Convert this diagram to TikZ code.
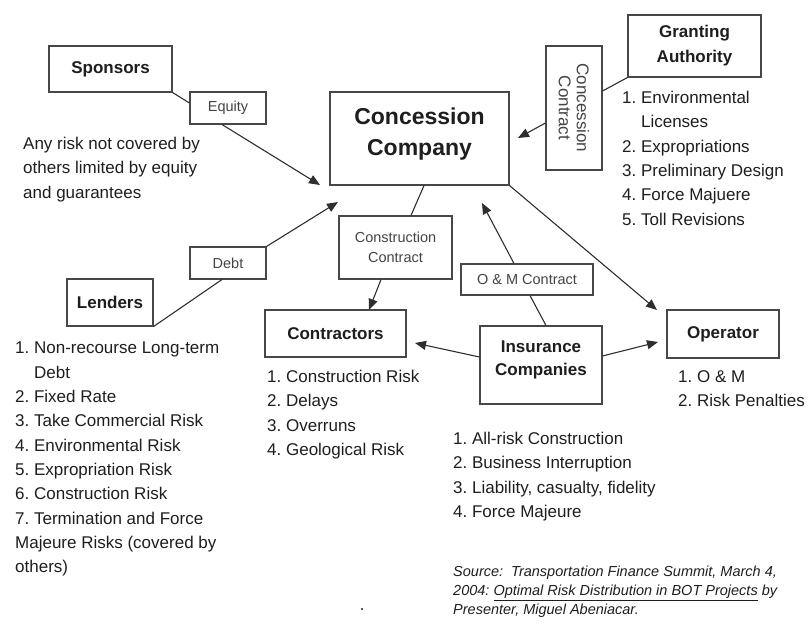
\documentclass[tikz,border=0pt]{standalone}
\usepackage{fontspec}
\setmainfont{Liberation Sans}
\usetikzlibrary{arrows.meta,calc}
\definecolor{txt}{HTML}{1E1E1E}
\definecolor{lblc}{HTML}{444444}
\definecolor{boxc}{HTML}{474747}
\definecolor{linec}{HTML}{2E2E2E}
\frenchspacing
\begin{document}
\begin{tikzpicture}[x=1pt,y=-1pt,
  box/.style={draw=boxc, line width=1.05pt, fill=white, inner sep=0pt},
  title/.style={font=\bfseries\fontsize{17}{24}\selectfont, text=txt, align=center},
  lbl/.style={font=\fontsize{14.5}{20}\selectfont, text=lblc, align=center},
  list/.style={font=\fontsize{17}{24.3}\selectfont, text=txt, align=left, anchor=north west, inner sep=0pt},
  conn/.style={draw=linec, line width=1.1pt},
  arr/.style={conn, -{Triangle[length=11pt,width=9pt]}}]
\useasboundingbox (0,0) rectangle (811,626);

% boxes
\node[box, title, minimum width=123pt, minimum height=46pt] (sponsors) at (110.5,69) {Sponsors};
\node[box, lbl, minimum width=76pt, minimum height=32pt] (equity) at (228,108) {Equity};
\node[box, minimum width=179pt, minimum height=93pt] (cc) at (419.5,138.5) {};
\node[title, font=\bfseries\fontsize{23}{31}\selectfont] (cctext) at ($(cc)+(0,-4)$) {Concession\\Company};
\node[box, lbl, font=\fontsize{17}{18}\selectfont, minimum width=124pt, minimum height=56pt, rotate=-90] (ccontract) at (574,108) {Concession\\Contract};
\node[box, title, font=\bfseries\fontsize{17}{25}\selectfont, minimum width=133pt, minimum height=62pt] (granting) at (694.5,46) {Granting\\Authority};
\node[box, title, minimum width=86pt, minimum height=47pt] (lenders) at (110,302.5) {Lenders};
\node[box, lbl, minimum width=76pt, minimum height=32pt] (debt) at (228,263) {Debt};
\node[box, lbl, minimum width=113pt, minimum height=63pt] (constr) at (395.5,247.5) {Construction\\Contract};
\node[box, title, minimum width=141pt, minimum height=47pt] (contractors) at (335.5,333.5) {Contractors};
\node[box, lbl, minimum width=132pt, minimum height=31pt] (om) at (527,279.5) {O \& M Contract};
\node[box, minimum width=122pt, minimum height=78pt] (ins) at (541,365) {};
\node[title, font=\bfseries\fontsize{17}{23}\selectfont] (instext) at ($(ins)+(0,-5)$) {Insurance\\Companies};
\node[box, title, minimum width=112pt, minimum height=48pt] (operator) at (723,334) {Operator};

% texts
\node[list] (anyrisk) at (23,137) {Any risk not covered by\\others limited by equity\\and guarantees};
\node[list] (grlist) at (622,91) {1. Environmental\\\hphantom{1.\ }Licenses\\2. Expropriations\\3. Preliminary Design\\4. Force Majuere\\5. Toll Revisions};
\node[list] (lelist) at (15,342) {1. Non-recourse Long-term\\\hphantom{1.\ }Debt\\2. Fixed Rate\\3. Take Commercial Risk\\4. Environmental Risk\\5. Expropriation Risk\\6. Construction Risk\\7. Termination and Force\\Majeure Risks (covered by\\others)};
\node[list] (colist) at (267,370) {1. Construction Risk\\2. Delays\\3. Overruns\\4. Geological Risk};
\node[list] (oplist) at (678,370) {1. O \& M\\2. Risk Penalties};
\node[list] (inlist) at (453,432) {1. All-risk Construction\\2. Business Interruption\\3. Liability, casualty, fidelity\\4. Force Majeure};
\node[list, font=\itshape\fontsize{14.5}{19}\selectfont] (source) at (453,566) {Source:\ \ Transportation Finance Summit, March 4,\\2004: \underline{Optimal Risk Distribution in BOT Projects} by\\Presenter, Miguel Abeniacar.};

% connectors
\coordinate (eqtip) at (320,185);
\coordinate (debttip) at (338,202);
\coordinate (cctip) at (518,138);
\coordinate (contip) at (369,310);
\coordinate (omtip) at (482,203);
\coordinate (optip) at (657,310);
\coordinate (ctrtip) at (415,343);
\coordinate (optip2) at (658,342);

\draw[conn] (sponsors.south east) -- ($(equity.west)+(0,-5)$);
\draw[arr] ($(equity.south)+(-6,0)$) -- (eqtip);
\draw[arr] (debt.north east) -- (debttip);
\draw[conn] ($(debt.south)+(-6,0)$) -- (lenders.south east);
\draw[arr] ($(ccontract.south)+(0,15)$) -- (cctip);
\draw[conn] (granting.south west) -- ($(ccontract.north)+(0,-17)$);
\draw[conn] ($(cc.south)+(4.5,0)$) -- ($(constr.north)+(15.5,0)$);
\draw[arr] ($(constr.south)+(-14.5,0)$) -- (contip);
\draw[conn] ($(ins.north)+(5,0)$) -- ($(om.south)+(3,0)$);
\draw[arr] ($(om.north)+(-13,0)$) -- (omtip);
\draw[arr] (cc.south east) -- (optip);
\draw[arr] ($(ins.west)+(0,-8)$) -- (ctrtip);
\draw[arr] ($(ins.east)+(0,-9)$) -- (optip2);

\fill[txt] (362,609) circle (1.2pt);
\end{tikzpicture}
\end{document}
